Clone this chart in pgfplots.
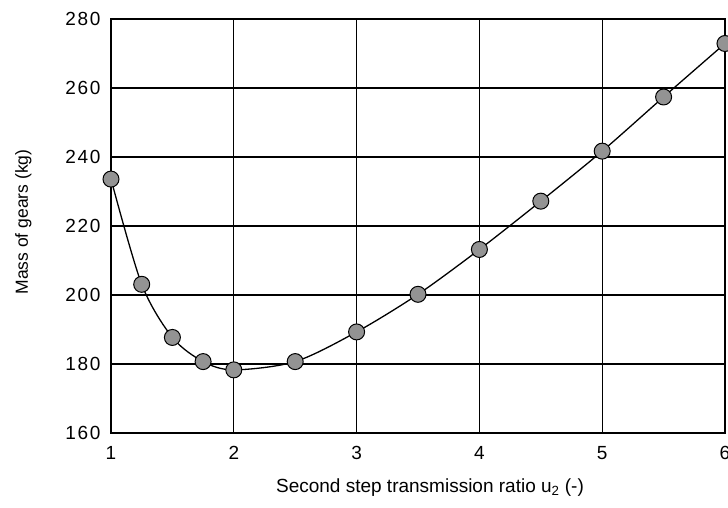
\documentclass[border=0pt]{standalone}
\usepackage{fontspec}
\setmainfont{Liberation Sans}
\usepackage{pgfplots}
\pgfplotsset{compat=1.18}
\begin{document}
\begin{tikzpicture}
\begin{axis}[
  name=ax,
  scale only axis,
  width=614pt, height=414pt,
  xmin=1, xmax=6, ymin=160, ymax=280,
  xtick={1,2,3,4,5,6}, ytick={160,180,...,280},
  grid=major,
  major grid style={black, line width=1.3pt},
  axis line style={black, line width=1.3pt},
  tick style={draw=none},
  /pgf/number format/assume math mode=true,
  tick label style={font=\fontsize{19}{23}\selectfont\addfontfeature{LetterSpace=9}},
  xticklabel style={yshift=-10pt},
  yticklabel style={xshift=-7pt},
  xlabel={Second step transmission ratio u\textsubscript{2} (-)},
  ylabel={Mass of gears (kg)},
  xlabel style={font=\fontsize{19}{22}\selectfont, yshift=-12pt, xshift=12pt},
  ylabel style={font=\fontsize{17.5}{21}\selectfont, yshift=27pt, xshift=4pt},
  clip=false,
]
\addplot[black, line width=1.3pt, smooth, tension=0.5,
  mark=*, mark size=8pt,
  mark options={fill=gray!85, draw=black, line width=1pt}]
coordinates {
(1,233.6) (1.25,203.1) (1.5,187.7) (1.75,180.7) (2,178.3) (2.5,180.7)
(3,189.3) (3.5,200.2) (4,213.2) (4.5,227.2) (5,241.7) (5.5,257.4) (6,272.9)
};
\end{axis}
\pgfresetboundingbox
\useasboundingbox ([xshift=-111pt,yshift=-74pt]ax.south west) rectangle ([xshift=3pt,yshift=19pt]ax.north east);
\end{tikzpicture}
\end{document}
